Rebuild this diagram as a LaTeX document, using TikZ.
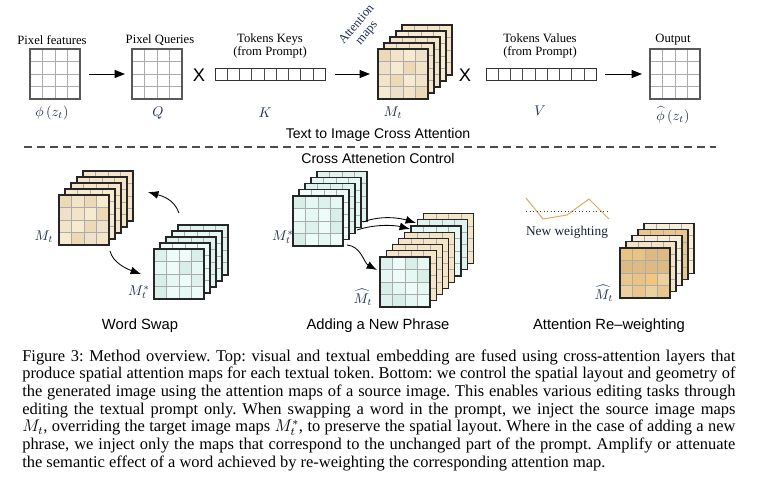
\documentclass[tikz,border=0pt]{standalone}
\usepackage{fontspec}
\setmainfont{Liberation Serif}
\setsansfont{Liberation Sans}
\usetikzlibrary{arrows.meta,positioning}

\definecolor{gridgray}{HTML}{ABABAB}
\definecolor{tanA}{HTML}{EDD9B6}
\definecolor{tanB}{HTML}{F3E4C8}
\definecolor{tanC}{HTML}{EFE0C9}
\definecolor{tanD}{HTML}{F6EAD0}
\definecolor{tanL}{HTML}{F4E5C9}
\definecolor{mintA}{HTML}{D8EFE8}
\definecolor{mintB}{HTML}{E6F8F4}
\definecolor{mintC}{HTML}{DDF2EC}
\definecolor{mintD}{HTML}{EDFCF9}
\definecolor{mintL}{HTML}{DEF3EE}
\definecolor{ochA}{HTML}{E8C381}
\definecolor{ochB}{HTML}{DDB984}
\definecolor{ochC}{HTML}{F2C67B}
\definecolor{ochD}{HTML}{EBD0A0}
\definecolor{ochE}{HTML}{E8C68E}
\definecolor{ochL}{HTML}{E8C68E}
\definecolor{creamL}{HTML}{F7EDDB}
\definecolor{creamM}{HTML}{F2E3C6}
\definecolor{navy}{HTML}{1E2D5A}
\definecolor{wline}{HTML}{E8A857}

% inner lines of a 4x4 map, top-left corner given in px
\newcommand{\maplines}[2]{%
  \foreach \g in {1,2,3}{
    \draw[gridline] (#1+12.5*\g,#2) -- ++(0,50);
    \draw[gridline] (#1,#2+12.5*\g) -- ++(50,0);
  }}
% one plain layer of a stack
\newcommand{\maplayer}[3]{%
  \fill[#3] (#1,#2) rectangle ++(50,50);
  \maplines{#1}{#2}
  \draw[black!85, line width=0.8pt] (#1,#2) rectangle ++(50,50);}
% front layer, 16 cell colours row by row
\newcommand{\mapfront}[3]{%
  \foreach \cc [count=\i from 0] in {#3}{
    \pgfmathsetmacro{\cx}{#1+12.5*mod(\i,4)}
    \pgfmathsetmacro{\cy}{#2+12.5*floor(\i/4)}
    \fill[\cc] (\cx,\cy) rectangle ++(12.5,12.5);
  }
  \maplines{#1}{#2}}

\begin{document}
\begin{tikzpicture}[
    x=0.025cm, y=-0.025cm,
    gridline/.style={draw=gridgray, line width=0.5pt},
    mapframe/.style={draw=black!85, line width=0.8pt, minimum size=1.25cm, inner sep=0pt, outer sep=0pt},
    pixframe/.style={draw=black!65, line width=0.8pt, minimum size=1.25cm, inner sep=0pt, outer sep=0pt},
    tokenbar/.style={draw=black!80, line width=0.6pt, minimum width=2.75cm, minimum height=0.3cm, inner sep=0pt, outer sep=0pt,
      path picture={\foreach \j in {1,...,8} \draw[black!70, line width=0.4pt]
        ([xshift=\j*0.30556cm]path picture bounding box.south west) -- ([xshift=\j*0.30556cm]path picture bounding box.north west);}},
    toplbl/.style={font=\fontsize{9}{9.8}\selectfont, align=center},
    mathlbl/.style={text=navy, font=\fontsize{10}{12}\selectfont, inner sep=1pt},
    timesx/.style={font=\sffamily\fontsize{13}{13}\selectfont},
    sectitle/.style={font=\sffamily\fontsize{10}{12}\selectfont},
    paneltitle/.style={font=\sffamily\fontsize{10.5}{12}\selectfont},
    flow/.style={-{Triangle[length=2.6mm,width=2mm]}, line width=0.7pt},
    curvarrow/.style={-{Latex[length=2.6mm,width=2mm]}, line width=0.6pt},
]
\useasboundingbox (0,0) rectangle (768,476);

% ====== Text to image cross attention ======
\maplines{30}{49}
\node[pixframe] (pixF) at (55,74) {};
\node[toplbl] (pixFLbl) at (52,40) {Pixel features};
\node[mathlbl] (phiLbl) at (52,113) {$\phi\left(z_t\right)$};

\maplines{132}{49}
\node[pixframe] (pixQ) at (157,74) {};
\node[toplbl] (pixQLbl) at (160,40) {Pixel Queries};
\node[mathlbl] (qLbl) at (158,113) {$Q$};

\node[timesx] (times1) at (199,75) {X};
\node[tokenbar] (keys) at (270,74) {};
\node[toplbl] (keysLbl) at (270,46) {Tokens Keys\\(from Prompt)};
\node[mathlbl] (kLbl) at (265,113) {$K$};

\foreach \k/\lc in {4/tanL,3/tanD,2/tanB,1/tanL} {\maplayer{378+6*\k}{49-6*\k}{\lc}}
\mapfront{378}{49}{tanA,tanB,tanD,tanC,tanC,tanD,tanA,tanB,tanB,tanA,tanD,tanB,tanD,tanC,tanB,tanA}
\node[mapframe] (mapMt) at (403,74) {};
\node[text=navy, rotate=50, align=center, inner sep=0pt, font=\fontsize{9}{9.4}\selectfont] (attnLbl) at (362,29) {Attention\\maps};
\node[mathlbl] (mtLbl) at (393,113) {$M_t$};

\node[timesx] (times2) at (465,75) {X};
\node[tokenbar] (values) at (541,74) {};
\node[toplbl] (valuesLbl) at (540,46) {Tokens Values\\(from Prompt)};
\node[mathlbl] (vLbl) at (540,111) {$V$};

\maplines{650}{49}
\node[pixframe] (pixOut) at (675,74) {};
\node[toplbl] (outLbl) at (673,40) {Output};
\node[mathlbl] (phiHatLbl) at (673,115) {$\widehat{\phi}\left(z_t\right)$};

\draw[flow, shorten <=0.225cm, shorten >=0.175cm] (pixF) -- (pixQ);
\draw[flow, shorten <=0.25cm, shorten >=0.2cm] (keys) -- (mapMt);
\draw[flow, shorten <=0.225cm, shorten >=0.2cm] (values) -- (pixOut);

% ====== Divider ======
\node[sectitle] (topTitle) at (378,135) {Text to Image Cross Attention};
\coordinate (dashL) at (24,147);
\coordinate (dashR) at (716,147);
\draw[black!70, line width=0.8pt, dash pattern=on 5.6pt off 3.6pt] (dashL) -- (dashR);
\node[sectitle] (botTitle) at (378,158) {Cross Attenetion Control};

% ====== Word swap ======
\foreach \k/\lc in {4/tanL,3/tanB,2/tanL,1/tanD} {\maplayer{59+6*\k}{195-6*\k}{\lc}}
\mapfront{59}{195}{tanA,tanB,tanA,tanD,tanC,tanB,tanD,tanA,tanB,tanD,tanA,tanC,tanD,tanA,tanC,tanB}
\node[mapframe] (wsMt) at (84,220) {};
\node[mathlbl] (wsMtLbl) at (44,237) {$M_t$};

\foreach \k/\lc in {4/mintL,3/mintB,2/mintL,1/mintD} {\maplayer{154+6*\k}{249-6*\k}{\lc}}
\mapfront{154}{249}{mintC,mintD,mintD,mintA,mintB,mintD,mintA,mintB,mintA,mintB,mintD,mintC,mintA,mintD,mintB,mintD}
\node[mapframe] (wsMs) at (179,274) {};
\node[mathlbl] (wsMsLbl) at (139,292) {$M_t^*$};

\coordinate (wsUpA) at (179,213);
\coordinate (wsUpB) at (148,192);
\coordinate (wsDnA) at (110,251);
\coordinate (wsDnB) at (141,274);
\draw[curvarrow] (wsUpA) .. controls +(-5,-14) and +(14,4) .. (wsUpB);
\draw[curvarrow] (wsDnA) .. controls +(3,12) and +(-14,-5) .. (wsDnB);
\node[paneltitle] (wsTitle) at (140,326) {Word Swap};

% ====== Adding a new phrase ======
\foreach \k/\lc in {4/mintL,3/mintB,2/mintL,1/mintD} {\maplayer{293+6*\k}{196-6.2*\k}{\lc}}
\mapfront{293}{196}{mintA,mintB,mintC,mintB,mintD,mintB,mintD,mintA,mintB,mintC,mintD,mintA,mintA,mintD,mintB,mintD}
\node[mapframe] (anMs) at (318,221) {};
\node[mathlbl] (anMsLbl) at (283,237) {$M_t^*$};

\foreach \k/\lc in {7/tanL,6/mintL,5/mintB,4/tanB,3/tanL,2/tanB,1/tanL} {\maplayer{380+6.2*\k}{257-6.2*\k}{\lc}}
\mapfront{380}{257}{mintC,mintD,mintA,mintB,mintB,mintD,mintB,mintA,mintA,mintB,mintD,mintB,mintC,mintA,mintB,mintD}
\node[mapframe] (anMh) at (405,282) {};
\node[mathlbl] (anMhLbl) at (363,297) {$\widehat{M_t}$};

\coordinate (anInA) at (363,222);
\coordinate (anInB) at (416,223);
\coordinate (anInC) at (357,230);
\coordinate (anInD) at (410,229);
\coordinate (anDnA) at (347,245);
\coordinate (anDnB) at (377,270);
\draw[curvarrow] (anInA) .. controls +(18,-7) and +(-16,-5) .. (anInB);
\draw[curvarrow] (anInC) .. controls +(18,-6) and +(-16,-4) .. (anInD);
\draw[curvarrow] (anDnA) .. controls +(14,1) and +(-13,-7) .. (anDnB);
\node[paneltitle] (anTitle) at (378,326) {Adding a New Phrase};

% ====== Attention re-weighting ======
\draw[wline, line width=0.7pt] (526,198) -- (543,219) -- (567,215) -- (589,199) -- (609,219);
\draw[black!75, dotted, line width=0.5pt] (526,211) -- (610,211);
\node[text=navy!70!black, font=\fontsize{9.5}{11}\selectfont] (nwLbl) at (567,232) {New weighting};

\foreach \k/\lc in {4/creamL,3/ochL,2/creamL,1/creamM} {\maplayer{620+6*\k}{248-6.2*\k}{\lc}}
\mapfront{620}{248}{ochA,ochA,ochB,ochB,ochB,ochB,ochB,ochB,ochE,ochA,ochC,ochD,ochD,ochE,ochD,ochE}
\node[mapframe] (rwMh) at (645,273) {};
\node[mathlbl] (rwMhLbl) at (604,293) {$\widehat{M_t}$};
\node[paneltitle] (rwTitle) at (609,326) {Attention Re--weighting};

% ====== Caption ======
\node[anchor=base west, inner sep=0pt] (caption) at (22,361) {\parbox[t]{17.825cm}{\fontsize{11.7}{12.57}\selectfont\frenchspacing\hyphenpenalty=10000
Figure 3: Method overview. Top: visual and textual embedding are fused using cross-attention layers that\linebreak
produce spatial attention maps for each textual token. Bottom: we control the spatial layout and geometry of\linebreak
the generated image using the attention maps of a source image. This enables various editing tasks through\linebreak
editing the textual prompt only. When swapping a word in the prompt, we inject the source image maps\linebreak
$M_t$, overriding the target image maps $M_t^*$, to preserve the spatial layout. Where in the case of adding a new\linebreak
phrase, we inject only the maps that correspond to the unchanged part of the prompt. Amplify or attenuate\linebreak
the semantic effect of a word achieved by re-weighting the corresponding attention map.}};

\end{tikzpicture}
\end{document}
